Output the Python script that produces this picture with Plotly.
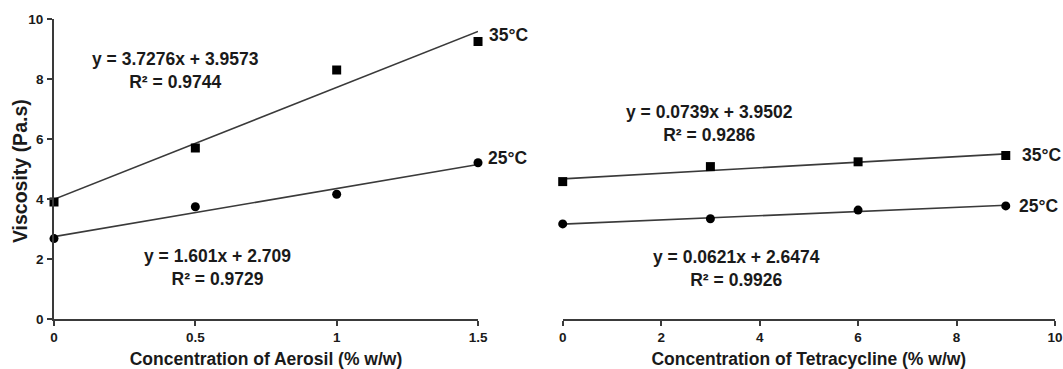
import numpy as np
import plotly.graph_objects as go

# Data
aerosil_x = [0, 0.5, 1.0, 1.5]
aerosil_35 = [3.90, 5.70, 8.30, 9.25]
aerosil_25 = [2.68, 3.74, 4.16, 5.21]

tetra_x = [0, 3, 6, 9]
tetra_35 = [4.58, 5.08, 5.24, 5.45]
tetra_25 = [3.17, 3.34, 3.63, 3.77]

aerosil_ticks = [0, 0.5, 1, 1.5]
aerosil_ticklabels = ["0", "0.5", "1", "1.5"]
tetra_ticks = [0, 2, 4, 6, 8, 10]
tetra_ticklabels = ["0", "2", "4", "6", "8", "10"]
y_ticks = [0, 2, 4, 6, 8, 10]
y_ticklabels = ["0", "2", "4", "6", "8", "10"]

eq_aer_35 = ("y = 3.7276x + 3.9573", "R² = 0.9744")
eq_aer_25 = ("y = 1.601x + 2.709", "R² = 0.9729")
eq_tet_35 = ("y = 0.0739x + 3.9502", "R² = 0.9286")
eq_tet_25 = ("y = 0.0621x + 2.6474", "R² = 0.9926")

FONT = "Liberation Sans, Arial, sans-serif"
DARK = "#1a1a1a"
LINE = "#3a3a3a"

fig = go.Figure()

def add_series(x, y, symbol, size, xa, ya):
    x = np.array(x, dtype=float)
    y = np.array(y, dtype=float)
    m, b = np.polyfit(x, y, 1)
    xs = np.array([x.min(), x.max()])
    fig.add_trace(go.Scatter(x=xs, y=m * xs + b, mode="lines",
                             line=dict(color=LINE, width=1.6),
                             xaxis=xa, yaxis=ya, showlegend=False,
                             cliponaxis=False, hoverinfo="skip"))
    fig.add_trace(go.Scatter(x=x, y=y, mode="markers",
                             marker=dict(symbol=symbol, size=size, color="#000000"),
                             xaxis=xa, yaxis=ya, showlegend=False,
                             cliponaxis=False))

add_series(aerosil_x, aerosil_35, "square", 9, "x", "y")
add_series(aerosil_x, aerosil_25, "circle", 9, "x", "y")
add_series(tetra_x, tetra_35, "square", 9, "x2", "y2")
add_series(tetra_x, tetra_25, "circle", 9, "x2", "y2")

ann_font = dict(family=FONT, size=17.5, color=DARK)
annotations = []

def eq(xref, yref, x, y, lines):
    annotations.append(dict(xref=xref, yref=yref, x=x, y=y,
                            text="<b>" + lines[0] + "</b><br><b>" + lines[1] + "</b>",
                            showarrow=False, align="center",
                            font=ann_font, xanchor="center", yanchor="middle"))

def lab(xref, yref, x, y, t):
    annotations.append(dict(xref=xref, yref=yref, x=x, y=y, text="<b>" + t + "</b>",
                            showarrow=False, xanchor="left", yanchor="middle",
                            font=ann_font))

eq("x", "y", 0.43, 8.28, eq_aer_35)
eq("x", "y", 0.577, 1.72, eq_aer_25)
eq("x2", "y2", 2.99, 6.52, eq_tet_35)
eq("x2", "y2", 3.54, 1.70, eq_tet_25)
lab("paper", "y", 0.4326, 9.47, "35°C")
lab("paper", "y", 0.4316, 5.37, "25°C")
lab("x2", "y2", 9.28, 5.47, "35°C")
lab("x2", "y2", 9.22, 3.77, "25°C")

# y-axis title placed as rotated text
annotations.append(dict(xref="paper", yref="paper", x=-0.034, y=0.493,
                        text="<b>Viscosity (Pa.s)</b>", textangle=-90,
                        showarrow=False, xanchor="center", yanchor="middle",
                        font=dict(family=FONT, size=19.5, color=DARK)))

axis_common = dict(showline=True, linecolor=LINE, linewidth=1.8,
                   ticks="outside", ticklen=5, tickwidth=1.6, tickcolor=LINE,
                   showgrid=False, zeroline=False, automargin=False,
                   tickfont=dict(family=FONT, size=13.5, color=DARK))

title_font = dict(family=FONT, size=17.5, color=DARK)

def bold(lbls):
    return ["<b>" + s + "</b>" for s in lbls]

fig.update_layout(
    width=1063, height=369,
    margin=dict(l=54, r=8, t=19, b=50, autoexpand=False),
    paper_bgcolor="white", plot_bgcolor="white",
    showlegend=False,
    annotations=annotations,
    xaxis=dict(domain=[0, 0.4236], range=[0, 1.5], tickvals=aerosil_ticks,
               ticktext=bold(aerosil_ticklabels), ticklabelstandoff=0,
               title=dict(text="<b>Concentration of Aerosil (% w/w)</b>",
                          font=title_font, standoff=10),
               anchor="y", **axis_common),
    yaxis=dict(domain=[0, 1], range=[0, 10], tickvals=y_ticks,
               ticktext=bold(y_ticklabels), ticklabelstandoff=1,
               anchor="x", **axis_common),
    xaxis2=dict(domain=[0.5082, 1.0], range=[0, 10], tickvals=tetra_ticks,
                ticktext=bold(tetra_ticklabels), ticklabelstandoff=0,
                title=dict(text="<b>Concentration of Tetracycline (% w/w)</b>",
                           font=title_font, standoff=10),
                anchor="y2", **axis_common),
    yaxis2=dict(domain=[0, 1], range=[0, 10], anchor="x2", visible=False),
)

fig.write_html("out.html")
